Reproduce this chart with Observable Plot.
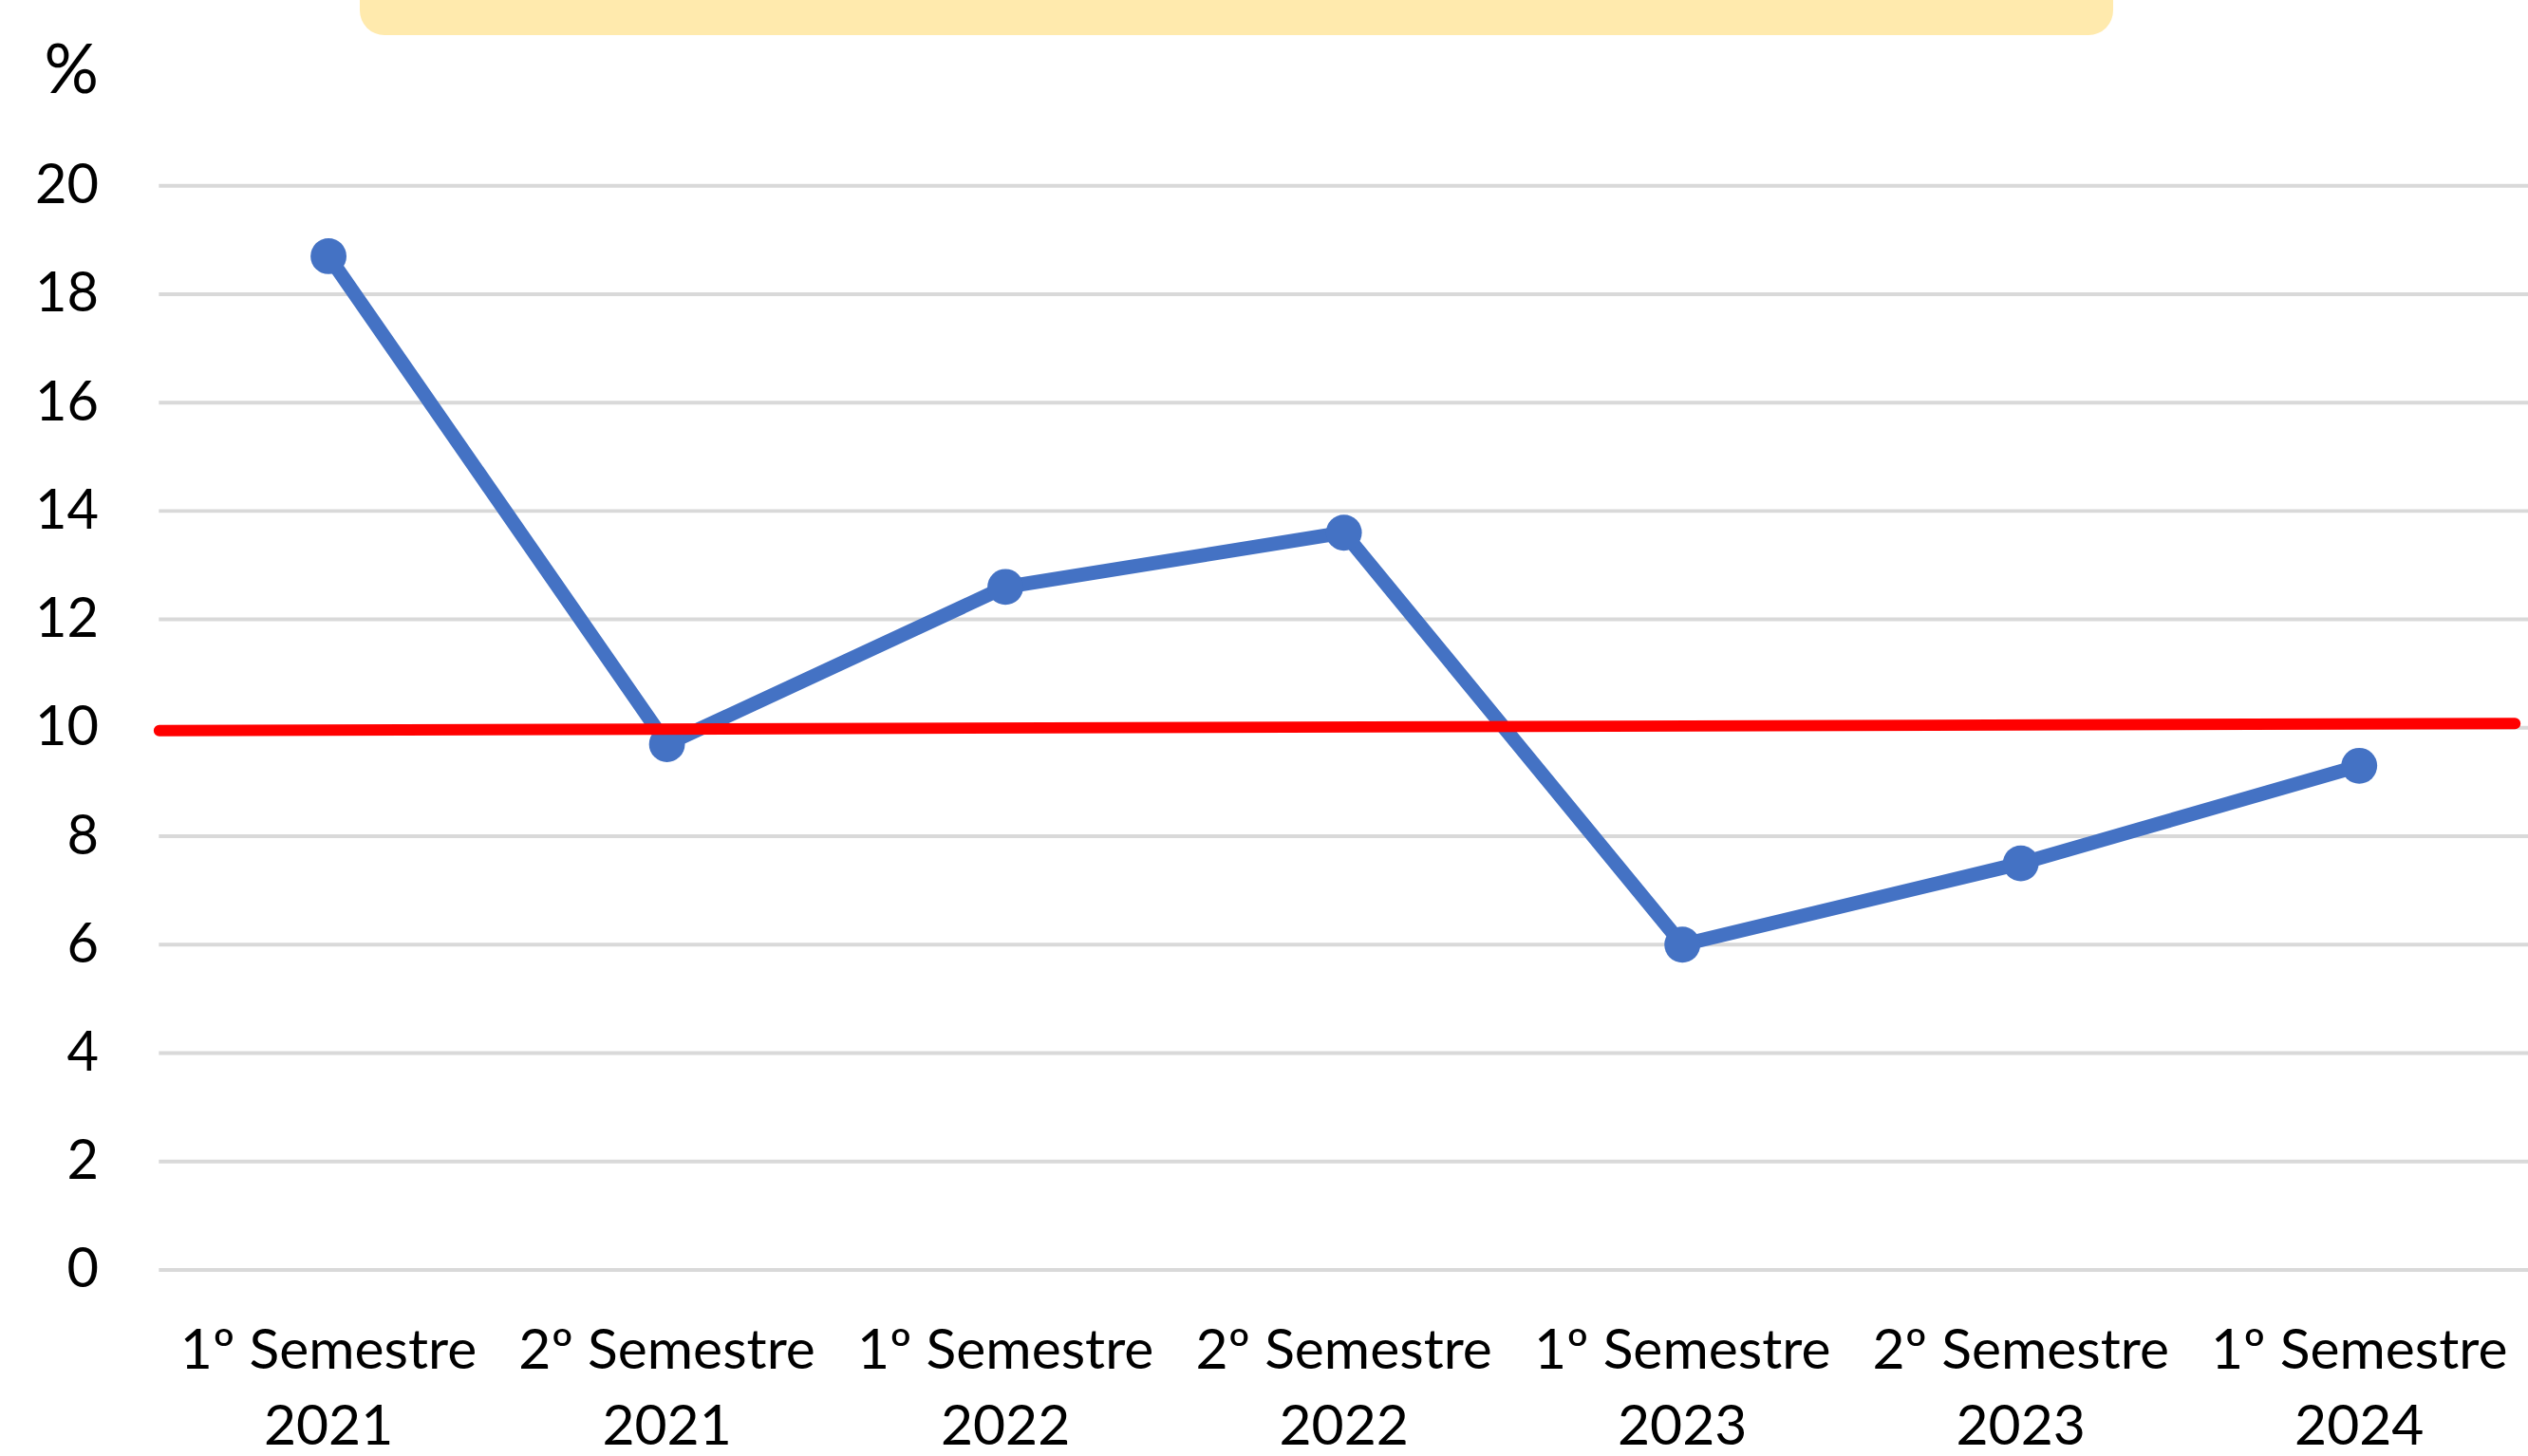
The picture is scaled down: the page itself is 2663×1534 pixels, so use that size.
<!DOCTYPE html>
<html>
<head>
<meta charset="utf-8">
<script src="https://cdn.jsdelivr.net/npm/d3@7"></script>
<script src="https://cdn.jsdelivr.net/npm/@observablehq/plot@0.6"></script>
<style>
  html, body { margin: 0; padding: 0; background: #ffffff; overflow: hidden; }
  #wrap { position: relative; width: 2663px; height: 1534px; overflow: hidden; }
  #banner { position: absolute; left: 379px; top: -40px; width: 1847px; height: 77px;
            background: #FFEAAD; border-radius: 26px; }
  #chart { position: absolute; left: 0; top: 0; }
</style>
</head>
<body>
<div id="wrap">
  <div id="banner"></div>
  <div id="chart"></div>
</div>
<script>
// ---- data ----
const semesters = ["1º Semestre", "2º Semestre", "1º Semestre", "2º Semestre", "1º Semestre", "2º Semestre", "1º Semestre"];
const years = ["2021", "2021", "2022", "2022", "2023", "2023", "2024"];
const values = [18.7, 9.7, 12.6, 13.6, 6.0, 7.5, 9.3];
const yTicks = [0, 2, 4, 6, 8, 10, 12, 14, 16, 18, 20];
// reference (target) line drawn across the plot, slightly tilted in the original
const targetX = [-0.5, 6.46];
const targetY = [9.95, 10.08];

const series = values.map((v, i) => ({i, v}));
const target = targetX.map((x, k) => ({x, y: targetY[k]}));

const chart = Plot.plot({
  width: 2674,
  height: 1534,
  marginLeft: 168,
  marginRight: 0,
  marginTop: 196,
  marginBottom: 191,
  style: {fontFamily: "Lato, 'Open Sans', sans-serif", fontSize: "58px", color: "#000000", background: "transparent"},
  x: {type: "linear", domain: [-0.5, 6.5]},
  y: {domain: [0, 20]},
  marks: [
    Plot.gridY(yTicks, {stroke: "#D9D9D9", strokeWidth: 4, strokeOpacity: 1}),
    Plot.axisY({ticks: yTicks, tickSize: 0, tickPadding: 64, label: null, fontSize: 58, fill: "#000"}),
    Plot.axisX({ticks: d3.range(semesters.length), tickSize: 0, tickPadding: 48, label: null,
                tickFormat: i => semesters[i] + "\n" + years[i], fontSize: 59, lineHeight: 1.356, fill: "#000"}),
    Plot.line(series, {x: "i", y: "v", stroke: "#4472C4", strokeWidth: 15, strokeLinejoin: "round"}),
    Plot.dot(series, {x: "i", y: "v", r: 19, fill: "#4472C4", stroke: null}),
    Plot.line(target, {x: "x", y: "y", stroke: "#FF0000", strokeWidth: 12}),
    Plot.text(["%"], {frameAnchor: "top-left", dx: -64, dy: -149, textAnchor: "end", fontSize: 72, fill: "#000"})
  ]
});
document.getElementById("chart").appendChild(chart);
</script>
</body>
</html>
